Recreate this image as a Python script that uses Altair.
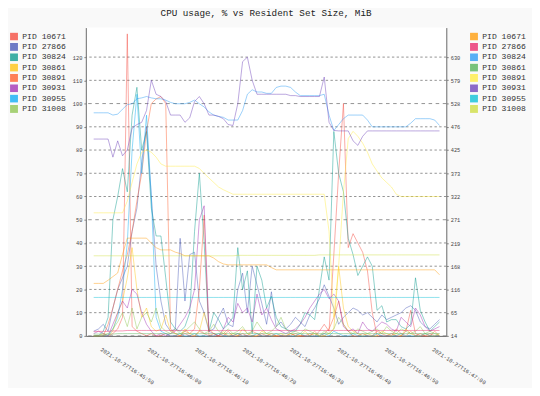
import altair as alt
import pandas as pd

# ---------------- data ----------------
PIDS = ["10671", "27866", "30824", "30861", "30891", "30931", "30955", "31008"]
LABELS = ["PID " + p for p in PIDS]
CPU_COLORS = ["#F44336", "#3F51B5", "#009688", "#FFC107", "#FF5722", "#9C27B0", "#03A9F4", "#8BC34A"]
RSS_COLORS = ["#FF9800", "#E91E63", "#2196F3", "#4CAF50", "#FFEB3B", "#673AB7", "#00BCD4", "#CDDC39"]

TITLE = "CPU usage, % vs Resident Set Size, MiB"
START = "2021-10-27T16:45:48.340"
STEP_MS = 1013
N_SAMPLES = 73

CPU_TICKS = [0, 10, 20, 30, 40, 50, 60, 70, 80, 90, 100, 110, 120]
GRID_MINOR = [10, 20, 30, 40, 60, 70, 80, 90, 110, 120]
GRID_MAJOR = [0, 50, 100]
RSS_TICKS = [14, 65, 116, 168, 219, 271, 322, 373, 425, 476, 528, 579, 630]
X_TICK_SECONDS = [(45, 50), (46, 0), (46, 10), (46, 20), (46, 30), (46, 40), (46, 50), (47, 0)]

# CPU usage, %
cpu_10671 = [0, 0, 0, 0, 1, 3, 8, 130, 4, 2, 1, 0, 1, 0, 0, 1, 0, 0, 0, 1,
             0, 0, 2, 1, 0, 0, 0, 1, 0, 0, 0, 1, 0, 0, 0, 1, 0, 0, 0, 0,
             0, 1, 0, 0, 0, 1, 0, 2, 5, 2, 35, 70, 100, 38, 44, 40, 36, 28, 10, 0,
             0, 0, 1, 0, 0, 2, 11, 1, 0, 0, 1, 0, 0]
cpu_27866 = [2, 3, 5, 2, 12, 20, 25, 30, 45, 55, 75, 90, 60, 30, 15, 5, 2, 3, 42, 15,
             35, 36, 15, 10, 2, 3, 8, 12, 5, 4, 20, 27, 10, 30, 22, 14, 5, 19, 4, 6,
             3, 5, 8, 6, 4, 9, 12, 16, 22, 17, 12, 5, 8, 10, 12, 11, 9, 10, 8, 6,
             9, 7, 8, 9, 10, 12, 13, 11, 6, 4, 3, 5, 7]
cpu_30824 = [0, 0, 2, 8, 50, 60, 72, 62, 95, 107, 80, 88, 55, 43, 43, 25, 6, 3, 2, 4,
             10, 45, 70, 40, 2, 10, 7, 3, 5, 8, 38, 20, 28, 1, 30, 24, 12, 17, 8, 4,
             3, 2, 2, 5, 10, 9, 7, 20, 34, 24, 88, 70, 62, 42, 35, 26, 30, 34, 30, 11,
             13, 6, 7, 7, 4, 3, 5, 25, 11, 6, 2, 4, 6]
cpu_30861 = [0, 0, 1, 0, 2, 10, 15, 25, 38, 20, 8, 12, 4, 2, 3, 9, 2, 1, 0, 3,
             1, 0, 2, 10, 3, 1, 0, 2, 0, 1, 0, 3, 1, 0, 0, 2, 1, 0, 0, 1,
             0, 1, 0, 0, 2, 0, 1, 0, 0, 1, 3, 30, 12, 4, 2, 1, 0, 1, 0, 0,
             2, 1, 0, 1, 0, 3, 1, 0, 0, 1, 0, 0, 1]
cpu_30891 = [0, 0, 0, 5, 12, 20, 28, 35, 45, 58, 70, 88, 100, 102, 103, 100, 3, 1, 0, 2,
             1, 3, 20, 52, 0, 1, 0, 0, 2, 0, 1, 0, 0, 2, 1, 0, 0, 1, 0, 0,
             0, 0, 1, 0, 0, 0, 2, 0, 1, 3, 8, 15, 5, 2, 0, 0, 1, 0, 0, 2,
             1, 0, 0, 3, 1, 0, 2, 0, 1, 0, 0, 2, 0]
cpu_30931 = [1, 2, 1, 0, 5, 10, 15, 12, 20, 18, 10, 5, 2, 0, 1, 0, 1, 2, 5, 8,
             12, 20, 50, 56, 2, 1, 0, 3, 8, 6, 14, 10, 12, 6, 18, 9, 12, 7, 3, 2,
             1, 2, 3, 5, 8, 12, 15, 18, 20, 16, 18, 15, 4, 2, 3, 1, 6, 3, 2, 4,
             6, 5, 3, 2, 8, 6, 4, 12, 9, 4, 2, 3, 4]
cpu_30955 = [0, 0, 0, 0, 3, 8, 20, 40, 80, 104, 70, 95, 60, 8, 2, 1, 0, 0, 1, 0,
             0, 1, 0, 0, 0, 0, 1, 0, 0, 0, 1, 0, 0, 0, 1, 0, 0, 0, 1, 0,
             0, 0, 0, 1, 0, 0, 0, 0, 1, 0, 2, 1, 0, 0, 1, 0, 0, 0, 0, 1,
             0, 0, 0, 0, 1, 0, 0, 0, 0, 1, 0, 0, 0]
cpu_31008 = [0, 0, 0, 1, 3, 6, 10, 4, 12, 3, 8, 10, 6, 12, 4, 2, 1, 3, 1, 2,
             4, 6, 3, 1, 2, 5, 2, 1, 3, 1, 2, 4, 1, 2, 6, 3, 1, 2, 4, 8,
             3, 1, 2, 1, 3, 2, 1, 0, 2, 1, 3, 8, 5, 2, 1, 3, 2, 1, 2, 3,
             1, 4, 2, 1, 3, 2, 1, 2, 4, 1, 2, 1, 0]

# Resident set size, MiB
rss_10671 = [130, 130, 130, 137, 145, 153, 194, 230, 230, 230, 230, 230, 219, 209, 204, 204, 204, 199, 196, 191,
             191, 191, 191, 191, 191, 186, 178, 173, 171, 171, 171, 171, 171, 171, 171, 171, 171, 165, 160, 160,
             160, 160, 160, 160, 160, 160, 160, 160, 160, 160, 160, 160, 160, 160, 160, 160, 160, 160, 160, 160,
             160, 160, 160, 160, 160, 160, 160, 160, 160, 160, 160, 160, 149]
rss_27866 = [24, 24, 24, 24, 25, 25, 25, 26, 26, 26, 26, 26, 26, 26, 26, 26, 26, 26, 26, 26,
             26, 26, 26, 26, 26, 26, 26, 26, 26, 26, 26, 26, 26, 26, 26, 26, 26, 26, 26, 26,
             26, 26, 26, 26, 26, 26, 26, 26, 26, 26, 26, 26, 26, 26, 26, 26, 26, 26, 26, 26,
             26, 26, 26, 26, 26, 26, 26, 26, 26, 26, 26, 26, 26]
rss_30824 = [507, 507, 507, 507, 502, 504, 515, 525, 527, 538, 540, 543, 540, 538, 538, 535, 530, 527, 527, 527,
             530, 535, 527, 520, 509, 502, 499, 497, 491, 491, 491, 512, 548, 558, 553, 553, 550, 550, 563, 566,
             566, 563, 553, 545, 545, 545, 545, 545, 548, 502, 468, 481, 494, 502, 502, 502, 502, 491, 476, 476,
             476, 476, 476, 476, 476, 476, 484, 494, 494, 494, 494, 491, 479]
rss_30861 = [18, 18, 18, 18, 18, 19, 19, 19, 19, 19, 19, 19, 19, 19, 19, 19, 19, 19, 19, 19,
             19, 19, 19, 19, 19, 19, 19, 19, 19, 19, 19, 19, 19, 19, 19, 19, 19, 19, 19, 19,
             19, 19, 19, 19, 19, 19, 19, 19, 19, 19, 19, 19, 19, 19, 19, 19, 19, 19, 19, 19,
             19, 19, 19, 19, 19, 19, 19, 19, 19, 19, 19, 19, 19]
rss_30891 = [286, 286, 286, 286, 286, 286, 286, 312, 353, 394, 420, 425, 420, 409, 394, 389, 389, 389, 389, 389,
             389, 389, 384, 373, 363, 353, 343, 337, 332, 327, 327, 327, 327, 327, 327, 327, 327, 327, 327, 327,
             327, 327, 327, 327, 327, 327, 327, 327, 327, 245, 55, 168, 332, 450, 466, 455, 440, 420, 394, 378,
             363, 353, 343, 327, 322, 322, 322, 322, 322, 322, 322, 322, 322]
rss_30931 = [449, 449, 449, 449, 409, 445, 412, 425, 473, 481, 486, 512, 579, 548, 543, 532, 502, 502, 502, 486,
             496, 532, 543, 527, 502, 502, 499, 494, 481, 479, 527, 620, 630, 579, 548, 548, 548, 548, 548, 548,
             548, 545, 545, 543, 543, 543, 543, 543, 586, 486, 468, 467, 467, 467, 445, 435, 455, 467, 467, 467,
             467, 467, 467, 467, 467, 467, 467, 467, 467, 467, 467, 467, 467]
rss_30955 = [99, 99, 99, 99, 99, 99, 99, 99, 99, 99, 99, 99, 99, 99, 99, 99, 99, 99, 99, 99,
             99, 99, 99, 99, 99, 99, 99, 99, 99, 99, 99, 99, 99, 99, 99, 99, 99, 99, 99, 99,
             99, 99, 99, 99, 99, 99, 99, 99, 99, 99, 99, 99, 99, 99, 99, 99, 99, 99, 99, 99,
             99, 99, 99, 99, 99, 99, 99, 99, 99, 99, 99, 99, 99]
rss_31008 = [191, 191, 191, 191, 191, 191, 191, 191, 191, 191, 191, 191, 191, 191, 191, 191, 191, 191, 191, 191,
             191, 191, 191, 191, 191, 191, 191, 191, 191, 191, 192, 192, 192, 192, 192, 192, 192, 192, 192, 192,
             192, 192, 192, 192, 192, 192, 192, 193, 193, 193, 193, 193, 193, 193, 193, 193, 193, 193, 193, 193,
             193, 193, 193, 193, 193, 193, 193, 193, 193, 193, 193, 193, 193]

CPU = [cpu_10671, cpu_27866, cpu_30824, cpu_30861, cpu_30891, cpu_30931, cpu_30955, cpu_31008]
RSS = [rss_10671, rss_27866, rss_30824, rss_30861, rss_30891, rss_30931, rss_30955, rss_31008]

# ---------------- tables ----------------
t0 = pd.Timestamp(START)
times = [(t0 + pd.Timedelta(milliseconds=STEP_MS * i)).strftime("%Y-%m-%dT%H:%M:%S.%f")[:-3]
         for i in range(N_SAMPLES)]


def long_table(series_list):
    rows = []
    for k, (lab, vals) in enumerate(zip(LABELS, series_list)):
        for t, v in zip(times, vals):
            rows.append({"t": t, "pid": lab, "order": k, "v": v})
    return pd.DataFrame(rows)


cpu_df = long_table(CPU)
rss_df = long_table(RSS)

FONT = "Liberation Mono"


def dt(m, s, ms=0):
    return alt.DateTime(year=2021, month=10, date=27, hours=16, minutes=m, seconds=s, milliseconds=ms)


x_enc = alt.X(
    "t:T",
    title=None,
    scale=alt.Scale(domain=[dt(45, 46, 680), dt(47, 2, 710)]),
    axis=alt.Axis(
        values=[dt(m, s) for m, s in X_TICK_SECONDS],
        format="%Y-%m-%dT%H:%M:%S",
        labelAngle=33, labelAlign="left", labelBaseline="top",
        labelFont=FONT, labelFontSize=5.6, labelColor="#444",
        labelPadding=11, tickSize=0, labelFlush=False, labelOverlap=False,
        domainColor="#666", grid=False,
    ),
)

cpu_scale = alt.Scale(domain=[0, 132.7], nice=False, zero=False)
rss_scale = alt.Scale(domain=[14, 695.3], nice=False, zero=False)

cpu_axis = alt.Axis(values=CPU_TICKS, format="d", grid=False, labelFont=FONT, labelFontSize=5.4,
                    labelColor="#444", tickSize=2, tickColor="#888", labelPadding=2,
                    domainColor="#666", orient="left", title=None)
rss_axis = alt.Axis(values=RSS_TICKS, format="d", grid=False, labelFont=FONT, labelFontSize=5.4,
                    labelColor="#444", tickSize=2, tickColor="#888", labelPadding=2,
                    domainColor="#666", orient="right", title=None)

grid_minor = alt.Chart(pd.DataFrame({"g": GRID_MINOR})).mark_rule(
    color="#777", strokeWidth=0.8, strokeDash=[2.4, 2.4]
).encode(y=alt.Y("g:Q", scale=cpu_scale, axis=cpu_axis, title=None))

grid_major = alt.Chart(pd.DataFrame({"g": GRID_MAJOR})).mark_rule(
    color="#777", strokeWidth=0.8, strokeDash=[3.6, 3.6]
).encode(y=alt.Y("g:Q", scale=cpu_scale, axis=cpu_axis, title=None))


def legend(x):
    return alt.Legend(
        title=None, orient="none", legendX=x, legendY=5.0, padding=0,
        symbolType="square", symbolSize=16, symbolStrokeWidth=4, symbolOpacity=0.75,
        labelFont=FONT, labelFontSize=8.2, labelColor="#333", labelOffset=4.3,
        rowPadding=0.5, symbolOffset=0, clipHeight=8.2,
    )


cpu_lines = alt.Chart(cpu_df).mark_line(opacity=0.6, interpolate="linear").encode(
    x=x_enc,
    y=alt.Y("v:Q", scale=cpu_scale, axis=cpu_axis, title=None),
    color=alt.Color("pid:N", scale=alt.Scale(domain=LABELS, range=CPU_COLORS), legend=legend(-77)),
    strokeWidth=alt.value(0.75),
    order=alt.Order("t:T"),
)

rss_lines = alt.Chart(rss_df).mark_line(opacity=0.6, interpolate="linear").encode(
    x=x_enc,
    y=alt.Y("v:Q", scale=rss_scale, axis=rss_axis, title=None),
    color=alt.Color("pid:N", scale=alt.Scale(domain=LABELS, range=RSS_COLORS), legend=legend(390)),
    strokeWidth=alt.value(0.75),
    order=alt.Order("t:T"),
)

left = alt.layer(grid_minor, grid_major, cpu_lines)

chart = alt.layer(left, rss_lines).resolve_scale(
    y="independent", color="independent"
).properties(
    width=366,
    height=313,
    autosize=alt.AutoSizeParams(type="none"),
    padding={"left": 79, "top": 17, "right": 87, "bottom": 50},
    background="#f9f9f9",
    title=alt.TitleParams(TITLE, font=FONT, fontSize=9.4, fontWeight="normal", color="#222",
                          anchor="middle", offset=9, baseline="alphabetic", frame="group", dy=7),
).configure_view(fill="white", stroke=None)

chart.save("out.html", embed_options={"renderer": "svg", "actions": False})
